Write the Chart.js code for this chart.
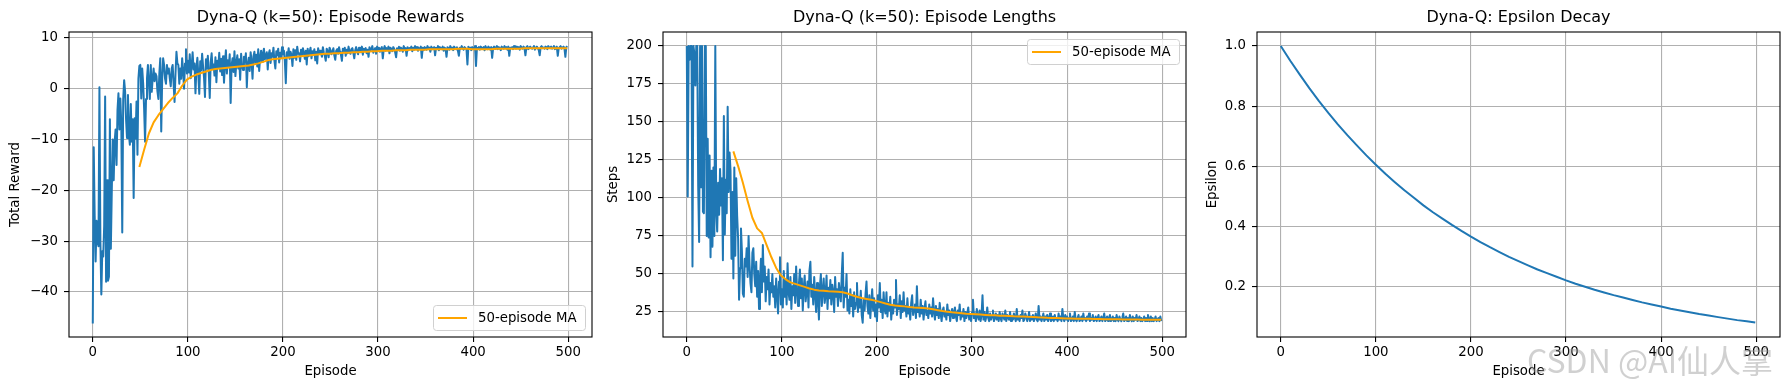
<!DOCTYPE html>
<html>
<head>
<meta charset="utf-8">
<script src="https://cdn.jsdelivr.net/npm/chart.js@4.4.1/dist/chart.umd.min.js"></script>
<style>
  body { margin: 0; background: #fff; }
  #wrap { position: relative; width: 1790px; height: 390px; overflow: hidden; background: #fff; }
  canvas { position: absolute; top: 0; }
  #c1 { left: 0; }
  #c2 { left: 600px; }
  #c3 { left: 1195px; }
  .mark { position: absolute; left: 1527px; top: 336px; font: 32px "Noto Sans CJK SC", "DejaVu Sans", sans-serif;
          color: rgba(150, 150, 150, 0.45); white-space: nowrap; }
</style>
</head>
<body>
<div id="wrap">
  <canvas id="c1" width="600" height="390"></canvas>
  <canvas id="c2" width="595" height="390"></canvas>
  <canvas id="c3" width="595" height="390"></canvas>
  <div class="mark">CSDN @AI仙人掌</div>
</div>
<script>
// ### DATA ###

// total reward per episode (0..499)
const episodeRewards = [
  -46.2, -11.5, -25, -34, -26, -30, -31, 0.3, -30, -40.5,
  -32, -33, -27, -1.5, -38, -18, -37.8, -37, -6, -31.5,
  -20, -10, -18, -10.4, -8, -15, -4.2, -0.9, -8, -1.9,
  -7, -28.3, -2, 1.7, -0.5, -6, -9.7, -1.2, -9, -11,
  -3, -10.4, -6, -21.5, -5.8, -9.8, -2.5, -13, 2, 4.5,
  4.7, -1.9, 4.0, 1, -3.9, -10.4, -2, 2.0, 4.7, 1,
  -2, 4.7, -0.6, 2, 4, 1.5, 3, 2.5, -0.5, -2,
  3, 6, -8.4, 2, 6, 4.7, 2, 1, 4.7, 3,
  4, 2, 0.5, 4, 4.7, 1, -2.6, 3, 7.3, 5,
  4.7, 1, 4, 2, 6, 3.5, 0, 5, 7.8, 3,
  5.5, 3.2, 6.8, 2.1, 4.5, 7.2, 3.8, 5.0, -0.9, 4.2,
  6.1, 2.8, -1.0, 5.4, 3.6, 6.9, 4.4, 2.2, -1.6, 5.8,
  4.0, 6.5, 3.1, -1.8, 5.2, 7.0, 3.9, 4.8, 2.6, 6.2,
  1.3, 5.5, 4.1, 7.1, 3.4, 5.9, 2.7, 6.4, 1.2, 4.9,
  7.6, 3.0, 5.6, 4.3, 6.8, -2.8, 4.7, 6.0, 3.3, 7.4,
  2.5, 5.1, 6.6, 4.0, 5.8, 1.8, 6.9, 4.6, 3.7, 6.3,
  5.2, 7.0, 0.3, 4.9, 6.1, 3.5, 7.2, 5.5, 2.0, 6.4,
  7.3, 5.0, 6.7, 4.4, 7.8, 3.5, 6.2, 7.5, 5.3, 6.9,
  7.9, 5.8, 6.5, 7.2, 3.8, 6.8, 7.6, 5.1, 7.0, 6.3,
  8.1, 5.6, 4.0, 7.4, 6.6, 7.9, 5.2, 7.1, 6.0, 8.2,
  6.8, 7.5, 5.5, 1.1, 7.2, 6.4, 8.0, 5.9, 7.3, 6.7,
  4.5, 7.8, 6.1, 7.6, 5.7, 8.3, 6.9, 7.0, 5.4, 7.7,
  6.6, 8.0, 7.1, 5.9, 7.5, 4.8, 7.9, 6.4, 7.2, 8.1,
  6.0, 7.4, 6.8, 7.8, 5.6, 7.3, 5.0, 8.0, 6.9, 7.5,
  7.0, 6.3, 8.2, 7.1, 6.5, 5.5, 7.9, 7.4, 6.2, 8.1,
  7.6, 6.8, 7.3, 8.0, 6.6, 5.7, 7.5, 7.8, 6.9, 8.2,
  7.2, 6.7, 5.5, 7.9, 7.4, 8.1, 6.5, 7.7, 7.0, 8.3,
  7.3, 6.9, 7.8, 8.0, 7.1, 6.0, 7.6, 8.2, 7.4, 6.8,
  8.1, 7.5, 7.2, 8.3, 6.7, 7.9, 7.6, 8.0, 7.0, 7.7,
  6.3, 8.2, 7.5, 7.8, 8.4, 7.1, 7.6, 8.0, 6.9, 8.3,
  7.7, 8.1, 7.3, 7.9, 8.2, 6.0, 7.8, 8.4, 7.5, 8.0,
  7.6, 8.3, 7.0, 8.1, 7.8, 7.4, 8.2, 7.9, 7.2, 6.2,
  8.0, 7.7, 8.3, 7.5, 8.1, 7.9, 7.3, 8.4, 7.8, 8.0,
  6.5, 8.2, 7.6, 8.0, 7.9, 8.3, 7.4, 8.1, 7.7, 8.4,
  7.9, 8.2, 7.5, 8.0, 7.8, 8.3, 6.1, 8.1, 7.6, 8.2,
  8.0, 7.7, 8.4, 7.9, 8.1, 7.3, 8.3, 7.8, 8.0, 8.2,
  6.6, 8.1, 7.9, 8.4, 7.6, 8.2, 8.0, 7.8, 8.3, 7.5,
  8.1, 7.9, 6.3, 8.2, 8.0, 7.7, 8.4, 7.9, 8.1, 7.6,
  8.3, 8.0, 7.8, 8.2, 7.5, 6.5, 8.1, 7.9, 8.4, 8.0,
  7.7, 8.2, 8.0, 7.8, 4.8, 8.3, 7.9, 8.1, 7.6, 8.2,
  8.0, 7.8, 8.4, 4.5, 8.1, 7.9, 8.2, 7.7, 8.3, 8.0,
  7.9, 8.2, 7.6, 8.4, 8.0, 7.8, 8.3, 8.1, 7.7, 8.2,
  6.1, 8.0, 8.3, 7.9, 8.1, 8.4, 7.8, 8.2, 8.0, 7.6,
  8.3, 8.1, 7.9, 8.4, 8.0, 8.2, 7.7, 8.3, 6.5, 8.1,
  8.0, 8.2, 7.8, 8.4, 8.1, 7.9, 8.3, 8.0, 8.2, 7.7,
  8.4, 8.1, 7.9, 8.3, 8.0, 6.6, 8.2, 8.4, 7.8, 8.1,
  8.3, 8.0, 7.9, 8.2, 8.4, 7.7, 8.1, 8.3, 8.0, 7.6,
  6.6, 8.2, 8.4, 8.0, 8.1, 7.9, 8.3, 8.2, 7.8, 8.4,
  8.1, 8.0, 8.3, 7.9, 8.2, 8.4, 7.8, 8.1, 8.3, 6.5,
  8.0, 8.2, 8.4, 7.9, 8.1, 8.3, 8.0, 6.3, 8.2, 8.4
];

// steps per episode (0..499)
const episodeSteps = [
  200, 101, 200, 191, 200, 200, 55, 200, 195, 174,
  200, 200, 108, 71, 200, 107, 200, 91, 90, 200,
  200, 75, 139, 74, 128, 61, 118, 68, 120, 75,
  200, 91, 78, 110, 89, 119, 95, 113, 59, 154,
  76, 112, 90, 160, 104, 130, 118, 60, 104, 47,
  120, 62, 113, 88, 73, 33, 54, 80, 65, 37,
  35, 60, 55, 67, 48, 75, 56, 44, 38, 64,
  67, 50, 42, 58, 35, 52, 27, 46, 60, 38,
  69, 45, 55, 32, 48, 40, 53, 30, 44, 38,
  50, 35, 42, 28, 47, 36, 24, 45, 61, 30,
  40, 28, 52, 35, 46, 30, 57, 38, 33, 48,
  27, 42, 36, 50, 31, 55, 39, 29, 44, 53,
  34, 47, 26, 41, 49, 32, 38, 45, 28, 52,
  58, 35, 43, 30, 48, 37, 25, 44, 33, 20,
  42, 50, 29, 39, 47, 31, 36, 49, 27, 41,
  34, 46, 30, 43, 38, 25, 48, 35, 40, 29,
  44, 37, 32, 50, 64, 28, 41, 35, 50, 26,
  33, 24, 40, 29, 36, 22, 38, 27, 31, 44,
  25, 35, 28, 39, 23, 18, 33, 26, 37, 45,
  29, 24, 36, 21, 31, 40, 26, 34, 22, 30,
  19, 36, 28, 44, 25, 33, 21, 38, 27, 24,
  38, 22, 31, 26, 35, 20, 29, 24, 33, 28,
  46, 23, 30, 27, 36, 21, 32, 25, 38, 26,
  29, 22, 34, 24, 28, 20, 31, 36, 23, 27,
  30, 21, 42, 25, 28, 22, 33, 24, 29, 20,
  27, 32, 23, 26, 21, 30, 24, 28, 22, 34,
  25, 20, 29, 23, 27, 21, 31, 24, 19, 26,
  28, 22, 25, 20, 30, 23, 26, 19, 24, 27,
  21, 25, 28, 22, 19, 26, 23, 30, 20, 24,
  22, 27, 19, 25, 21, 24, 28, 20, 23, 19,
  25, 33, 21, 24, 19, 27, 22, 20, 26, 19,
  23, 36, 20, 25, 19, 22, 28, 21, 19, 24,
  20, 22, 26, 19, 21, 24, 20, 23, 19, 25,
  21, 19, 24, 22, 20, 26, 19, 23, 21, 20,
  25, 19, 22, 20, 24, 21, 19, 27, 20, 22,
  19, 23, 21, 26, 19, 20, 24, 22, 19, 21,
  25, 19, 22, 20, 23, 19, 21, 24, 20, 19,
  29, 20, 22, 19, 21, 24, 19, 22, 20, 23,
  19, 21, 24, 19, 20, 22, 19, 23, 20, 21,
  19, 24, 20, 22, 19, 27, 21, 19, 23, 20,
  22, 19, 21, 24, 19, 20, 22, 19, 25, 20,
  19, 21, 23, 19, 20, 22, 19, 24, 20, 21,
  19, 22, 20, 24, 19, 21, 20, 23, 19, 20,
  22, 19, 21, 23, 19, 20, 22, 19, 21, 24,
  19, 20, 22, 19, 21, 23, 19, 20, 22, 19,
  21, 19, 23, 20, 19, 22, 20, 19, 21, 24,
  19, 20, 22, 19, 21, 19, 23, 20, 19, 22,
  19, 21, 20, 23, 19, 20, 22, 19, 21, 19,
  20, 22, 19, 21, 19, 23, 20, 19, 22, 19,
  21, 19, 20, 22, 19, 20, 21, 19, 22, 19
];

// 50-episode moving averages, read every 5 episodes from episode 49
const rewardMA = [
  -15.4, -12.0, -8.8, -6.6, -5.2, -4.0, -2.8, -1.8, -0.9, 0.6,
  1.8, 2.4, 2.8, 3.1, 3.4, 3.7, 3.9, 4.0, 4.1, 4.2,
  4.3, 4.4, 4.5, 4.6, 4.8, 5.0, 5.3, 5.6, 5.8, 5.9,
  6.0, 6.1, 6.2, 6.3, 6.4, 6.5, 6.6, 6.7, 6.8, 6.9,
  6.9, 7.0, 7.0, 7.1, 7.1, 7.2, 7.2, 7.3, 7.3, 7.4,
  7.4, 7.5, 7.5, 7.5, 7.6, 7.6, 7.6, 7.7, 7.7, 7.7,
  7.7, 7.8, 7.8, 7.8, 7.8, 7.8, 7.8, 7.9, 7.9, 7.9,
  7.8, 7.8, 7.8, 7.8, 7.8, 7.9, 7.9, 7.9, 7.9, 7.9,
  7.9, 8.0, 8.0, 8.0, 8.0, 8.0, 8.0, 8.0, 8.0, 8.0,
  8.0
];
const stepsMA = [
  130.7, 121, 110, 98, 87, 80, 77, 69, 61, 54,
  49, 46.5, 44.5, 43.5, 42.5, 41.5, 40.5, 39.7, 39.2, 38.9,
  38.6, 38.5, 38.3, 38.0, 37.2, 36.0, 35.0, 34.2, 33.6, 33.0,
  32.3, 31.5, 30.6, 29.8, 29.3, 29.0, 28.7, 28.3, 28.0, 27.8,
  27.6, 27.3, 26.8, 26.2, 25.6, 25.2, 24.8, 24.5, 24.2, 23.9,
  23.7, 23.5, 23.3, 23.1, 22.9, 22.8, 22.6, 22.5, 22.4, 22.2,
  22.1, 22.0, 21.8, 21.7, 21.5, 21.4, 21.2, 21.1, 21.0, 20.9,
  20.8, 20.7, 20.6, 20.6, 20.5, 20.5, 20.4, 20.4, 20.3, 20.3,
  20.2, 20.2, 20.1, 20.1, 20.0, 20.0, 19.9, 19.9, 19.9, 19.9,
  19.9
];

// epsilon, read every 10 episodes
const epsilonEpisodes = [0, 10, 20, 30, 40, 50, 60, 70, 80, 90, 100, 110, 120, 130, 140, 150, 160, 170, 180, 190,
  200, 210, 220, 230, 240, 250, 260, 270, 280, 290, 300, 310, 320, 330, 340, 350, 360, 370, 380, 390,
  400, 410, 420, 430, 440, 450, 460, 470, 480, 490, 499];
const epsilonValues = [1.000, 0.951, 0.905, 0.860, 0.818, 0.778, 0.740, 0.704, 0.670, 0.637,
  0.606, 0.576, 0.548, 0.521, 0.496, 0.471, 0.448, 0.427, 0.406, 0.386,
  0.367, 0.349, 0.332, 0.316, 0.300, 0.286, 0.272, 0.258, 0.246, 0.234,
  0.222, 0.211, 0.201, 0.191, 0.182, 0.173, 0.165, 0.157, 0.149, 0.142,
  0.135, 0.128, 0.122, 0.116, 0.110, 0.105, 0.100, 0.095, 0.090, 0.086, 0.082];

// tick labels
const episodeTicks = [0, 100, 200, 300, 400, 500];
const rewardTicks = [-40, -30, -20, -10, 0, 10];
const stepTicks = [25, 50, 75, 100, 125, 150, 175, 200];
const epsilonTicks = [0.2, 0.4, 0.6, 0.8, 1.0];

const maLabel = '50-episode MA';
const BLUE = '#1f77b4';
const ORANGE = '#ffa500';
const FONT = 'DejaVu Sans';

// ### HELPERS ###

const pts = (xs, ys) => ys.map((y, i) => ({ x: xs[i], y: y }));
const idx = arr => arr.map((_, i) => i);
const maEpisodes = rewardMA.map((_, i) => 49 + i * 5);
const minus = v => (v < 0 ? '\u2212' + Math.abs(v) : String(v));

// black box round the axes, like matplotlib spines
const frame = {
  id: 'frame',
  afterDatasetsDraw(chart) {
    const { ctx, chartArea: a } = chart;
    ctx.save();
    ctx.strokeStyle = '#000';
    ctx.lineWidth = 1.1;
    ctx.strokeRect(a.left, a.top, a.right - a.left, a.bottom - a.top);
    ctx.restore();
  }
};

// legend box inside the axes (only the MA line has a label)
const maLegend = {
  id: 'maLegend',
  afterDraw(chart, args, opts) {
    if (!opts.where) return;
    const { ctx, chartArea: a } = chart;
    const ds = chart.data.datasets.find(d => d.label);
    const w = 152, h = 25;
    const x = a.right - 7 - w;
    const y = opts.where === 'top' ? a.top + 7 : a.bottom - 7 - h;
    ctx.save();
    ctx.beginPath();
    ctx.roundRect(x + 0.5, y + 0.5, w, h, 3);
    ctx.fillStyle = 'rgba(255,255,255,0.8)';
    ctx.fill();
    ctx.strokeStyle = '#d0d0d0';
    ctx.lineWidth = 1;
    ctx.stroke();
    ctx.beginPath();
    ctx.moveTo(x + 5, y + h / 2 + 0.5);
    ctx.lineTo(x + 34, y + h / 2 + 0.5);
    ctx.strokeStyle = ds.borderColor;
    ctx.lineWidth = 2;
    ctx.stroke();
    ctx.fillStyle = '#000';
    ctx.font = '13.3px "' + FONT + '"';
    ctx.textBaseline = 'middle';
    ctx.fillText(ds.label, x + 45, y + h / 2 + 1);
    ctx.restore();
  }
};

function panel(id, cfg) {
  return new Chart(document.getElementById(id), {
    type: 'line',
    data: { datasets: cfg.datasets },
    options: {
      animation: false,
      responsive: false,
      devicePixelRatio: 1,
      layout: { padding: { left: 0, right: cfg.padRight, top: 0, bottom: 0 } },
      elements: { point: { radius: 0 }, line: { tension: 0, borderJoinStyle: 'round' } },
      plugins: {
        legend: { display: false },
        tooltip: { enabled: false },
        title: {
          display: true, text: cfg.title, fullSize: false, color: '#000',
          font: { family: FONT, size: 16, weight: 'normal' },
          padding: { top: 8, bottom: 4.8 }
        },
        maLegend: { where: cfg.legend }
      },
      scales: {
        x: {
          type: 'linear', min: -25, max: 525,
          afterBuildTicks: s => { s.ticks = episodeTicks.map(v => ({ value: v })); },
          afterFit: s => { s.height = 53; },
          grid: { color: '#b0b0b0', lineWidth: 1.1, tickColor: '#000', tickLength: 5, tickWidth: 1.1 },
          border: { display: false },
          ticks: { color: '#000', padding: 3, maxRotation: 0, autoSkip: false, font: { family: FONT, size: 13.3 } },
          title: { display: true, text: 'Episode', color: '#000', font: { family: FONT, size: 13.3 }, padding: { top: 0, bottom: 10.3 } }
        },
        y: {
          min: cfg.yMin, max: cfg.yMax,
          afterBuildTicks: s => { s.ticks = cfg.yTicks.map(v => ({ value: v })); },
          afterFit: s => { s.width = cfg.yWidth; },
          grid: { color: '#b0b0b0', lineWidth: 1.1, tickColor: '#000', tickLength: 5, tickWidth: 1.1 },
          border: { display: false },
          ticks: { color: '#000', padding: 6, autoSkip: false, font: { family: FONT, size: 13.3 }, callback: cfg.fmt },
          title: { display: true, text: cfg.yTitle, color: '#000', font: { family: FONT, size: 13.3 }, padding: { top: cfg.yTitlePad, bottom: 0 } }
        }
      }
    },
    plugins: [frame, maLegend]
  });
}

// ### CHARTS ###

panel('c1', {
  title: 'Dyna-Q (k=50): Episode Rewards',
  yTitle: 'Total Reward', yTitlePad: 7.3, yWidth: 69, padRight: 8,
  yMin: -48.86, yMax: 11.18, yTicks: rewardTicks, fmt: minus, legend: 'bottom',
  datasets: [
    { data: pts(idx(episodeRewards), episodeRewards), borderColor: BLUE, borderWidth: 2, order: 1 },
    { label: maLabel, data: pts(maEpisodes, rewardMA), borderColor: ORANGE, borderWidth: 2, order: 0 }
  ]
});

panel('c2', {
  title: 'Dyna-Q (k=50): Episode Lengths',
  yTitle: 'Steps', yTitlePad: 5.4, yWidth: 63, padRight: 9,
  yMin: 8.55, yMax: 209.2, yTicks: stepTicks, fmt: minus, legend: 'top',
  datasets: [
    { data: pts(idx(episodeSteps), episodeSteps), borderColor: BLUE, borderWidth: 2, order: 1 },
    { label: maLabel, data: pts(maEpisodes, stepsMA), borderColor: ORANGE, borderWidth: 2, order: 0 }
  ]
});

panel('c3', {
  title: 'Dyna-Q: Epsilon Decay',
  yTitle: 'Epsilon', yTitlePad: 9.2, yWidth: 62, padRight: 10,
  yMin: 0.034, yMax: 1.0465, yTicks: epsilonTicks, fmt: v => v.toFixed(1), legend: null,
  datasets: [
    { data: pts(epsilonEpisodes, epsilonValues), borderColor: BLUE, borderWidth: 2 }
  ]
});
</script>
</body>
</html>
